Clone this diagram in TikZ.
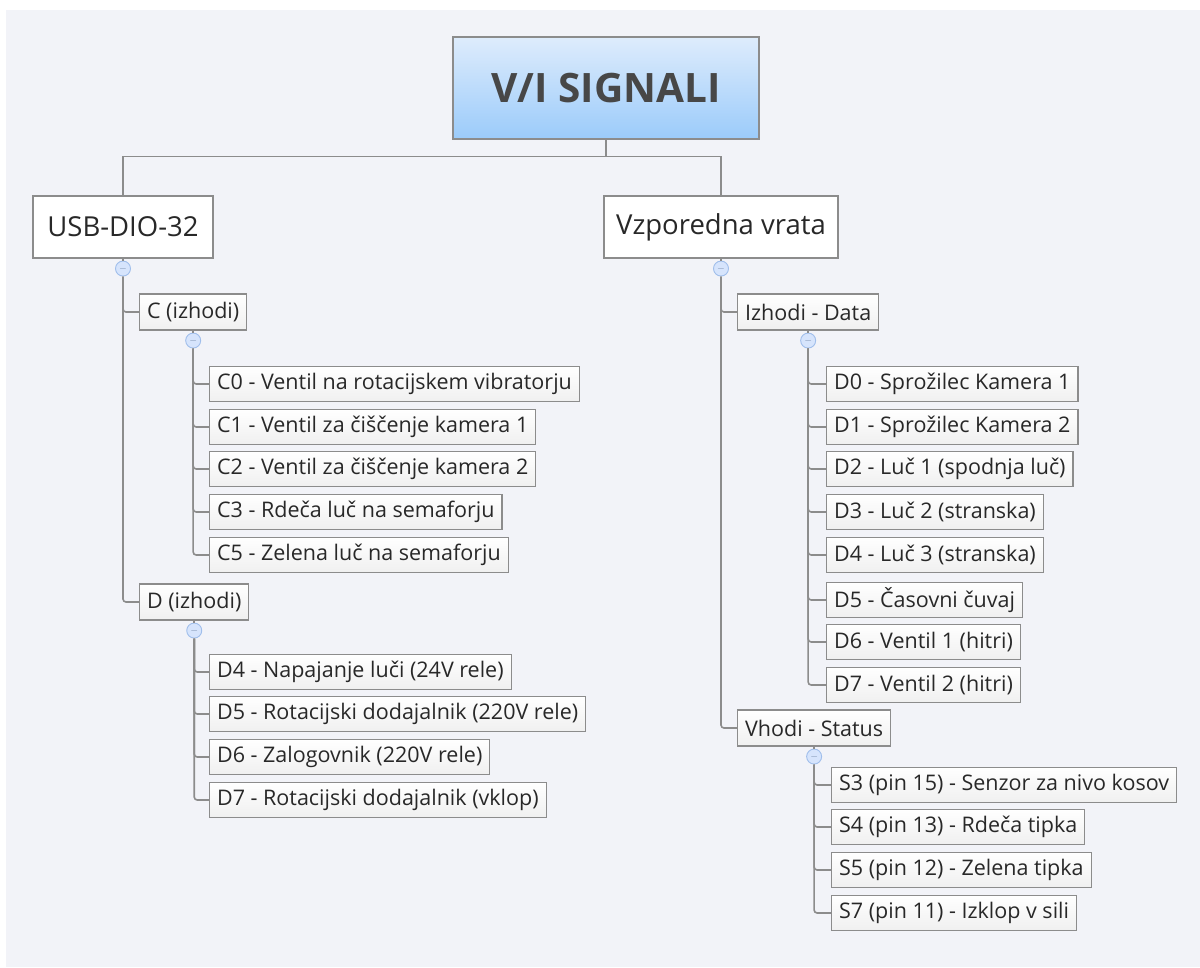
\documentclass[tikz,border=0pt]{standalone}
\usepackage{fontspec}
\setmainfont{Open Sans}
\usepackage{tikz}
\usetikzlibrary{positioning,calc}
\usepackage{xcolor}
\definecolor{bggray}{RGB}{242,243,248}
\definecolor{linegray}{RGB}{140,140,140}
\definecolor{rootTop}{RGB}{222,236,252}
\definecolor{rootBot}{RGB}{155,203,250}
\definecolor{foldfill}{RGB}{214,228,252}
\definecolor{folddraw}{RGB}{160,190,235}
\definecolor{txtgray}{RGB}{40,40,40}

\begin{document}
\begin{tikzpicture}[
  x=1pt, y=-1pt,
  root/.style={draw=linegray, line width=1.2pt, top color=rootTop, bottom color=rootBot,
    minimum width=306pt, minimum height=102pt, font=\fontsize{40.5}{46}\selectfont\bfseries, text=black!72},
  topic/.style={draw=linegray, line width=1.2pt, fill=white, minimum height=62pt,
    font=\fontsize{27.5}{32}\selectfont, text=txtgray},
  sub/.style={draw=linegray, line width=1.2pt, top color=white, bottom color=black!6,
    minimum height=36pt, inner xsep=7.5pt, inner ysep=2pt, font=\fontsize{21.5}{24}\selectfont, text=txtgray},
  leaf/.style={sub, anchor=west, minimum height=35pt},
  fold/.style={circle, draw=folddraw, fill=foldfill, line width=0.9pt, minimum size=15pt, inner sep=0pt,
    font=\fontsize{10}{10}\selectfont, text=folddraw!70!black},
  conn/.style={draw=linegray, line width=1.6pt, rounded corners=3pt}
]
\useasboundingbox (0,0) rectangle (1200,967);
\fill[white] (0,0) rectangle (1200,967);
\fill[bggray] (6,10) rectangle (1200,967);

% root and main topics
\node[root] (root) at (606,88) {V/I SIGNALI};
\node[topic, minimum width=180pt] (usb) at (123,227) {USB-DIO-32};
\node[topic, minimum width=234pt] (vzp) at (721,227) {Vzporedna vrata};
\draw[conn, rounded corners=0pt] (root.south) -- ($(root.south)+(0,17)$) -| (usb.north);
\draw[conn, rounded corners=0pt] (root.south) -- ($(root.south)+(0,17)$) -| (vzp.north);

% USB-DIO-32 branch
\node[fold, below=2pt of usb] (usbfold) {$-$};
\draw[conn] (usb.south) -- (usbfold.north);
\node[sub, anchor=west] (cizh) at (139,312) {C (izhodi)};
\node[sub, anchor=west] (dizh) at (139,602) {D (izhodi)};
\draw[conn] (usbfold.south) |- (cizh.west);
\draw[conn] (usbfold.south) |- (dizh.west);

\node[fold, below=2pt of cizh] (cfold) {$-$};
\draw[conn] (cizh.south) -- (cfold.north);
\node[leaf] (c0) at (209,384) {C0 - Ventil na rotacijskem vibratorju};
\node[leaf] (c1) at (209,427) {C1 - Ventil za čiščenje kamera 1};
\node[leaf] (c2) at (209,469) {C2 - Ventil za čiščenje kamera 2};
\node[leaf] (c3) at (209,512) {C3 - Rdeča luč na semaforju};
\node[leaf] (c5) at (209,555) {C5 - Zelena luč na semaforju};
\draw[conn] (cfold.south) |- (c0.west);
\draw[conn] (cfold.south) |- (c1.west);
\draw[conn] (cfold.south) |- (c2.west);
\draw[conn] (cfold.south) |- (c3.west);
\draw[conn] (cfold.south) |- (c5.west);

\node[fold, below=2pt of dizh] (dfold) {$-$};
\draw[conn] (dizh.south) -- (dfold.north);
\node[leaf] (d4) at (209,672) {D4 - Napajanje luči (24V rele)};
\node[leaf] (d5) at (209,714) {D5 - Rotacijski dodajalnik (220V rele)};
\node[leaf] (d6) at (209,757) {D6 - Zalogovnik (220V rele)};
\node[leaf] (d7) at (209,800) {D7 - Rotacijski dodajalnik (vklop)};
\draw[conn] (dfold.south) |- (d4.west);
\draw[conn] (dfold.south) |- (d5.west);
\draw[conn] (dfold.south) |- (d6.west);
\draw[conn] (dfold.south) |- (d7.west);

% Vzporedna vrata branch
\node[fold, below=2pt of vzp] (vzpfold) {$-$};
\draw[conn] (vzp.south) -- (vzpfold.north);
\node[sub, anchor=west] (izh) at (737,312) {Izhodi - Data};
\node[sub, anchor=west] (vho) at (737,728) {Vhodi - Status};
\draw[conn] (vzpfold.south) |- (izh.west);
\draw[conn] (vzpfold.south) |- (vho.west);

\node[fold, below=2pt of izh] (izhfold) {$-$};
\draw[conn] (izh.south) -- (izhfold.north);
\node[leaf] (p0) at (826,384) {D0 - Sprožilec Kamera 1};
\node[leaf] (p1) at (826,427) {D1 - Sprožilec Kamera 2};
\node[leaf] (p2) at (826,469) {D2 - Luč 1 (spodnja luč)};
\node[leaf] (p3) at (826,512) {D3 - Luč 2 (stranska)};
\node[leaf] (p4) at (826,555) {D4 - Luč 3 (stranska)};
\node[leaf] (p5) at (826,600) {D5 - Časovni čuvaj};
\node[leaf] (p6) at (826,642) {D6 - Ventil 1 (hitri)};
\node[leaf] (p7) at (826,685) {D7 - Ventil 2 (hitri)};
\draw[conn] (izhfold.south) |- (p0.west);
\draw[conn] (izhfold.south) |- (p1.west);
\draw[conn] (izhfold.south) |- (p2.west);
\draw[conn] (izhfold.south) |- (p3.west);
\draw[conn] (izhfold.south) |- (p4.west);
\draw[conn] (izhfold.south) |- (p5.west);
\draw[conn] (izhfold.south) |- (p6.west);
\draw[conn] (izhfold.south) |- (p7.west);

\node[fold, below=2pt of vho] (vhofold) {$-$};
\draw[conn] (vho.south) -- (vhofold.north);
\node[leaf] (s3) at (831,785) {S3 (pin 15) - Senzor za nivo kosov};
\node[leaf] (s4) at (831,827) {S4 (pin 13) - Rdeča tipka};
\node[leaf] (s5) at (831,870) {S5 (pin 12) - Zelena tipka};
\node[leaf] (s7) at (831,913) {S7 (pin 11) - Izklop v sili};
\draw[conn] (vhofold.south) |- (s3.west);
\draw[conn] (vhofold.south) |- (s4.west);
\draw[conn] (vhofold.south) |- (s5.west);
\draw[conn] (vhofold.south) |- (s7.west);
\end{tikzpicture}
\end{document}
